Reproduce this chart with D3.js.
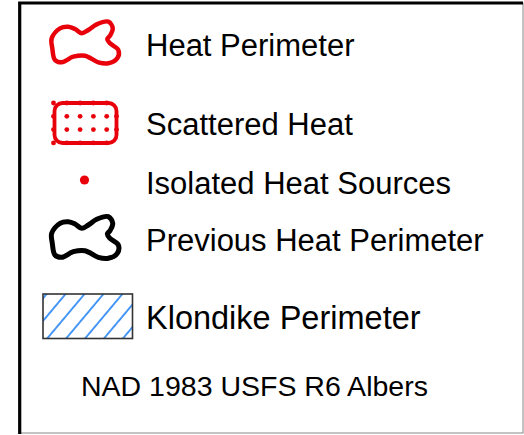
<!DOCTYPE html>
<html>
<head>
<meta charset="utf-8">
<script src="https://cdn.jsdelivr.net/npm/d3@7"></script>
<style>
  body { margin: 0; background: #fff; }
  svg { display: block; }
  text { font-family: "Liberation Sans", Arial, sans-serif; fill: #000; }
</style>
</head>
<body>
<div id="legend"></div>
<script>
// legend entries
const labels = ['Heat Perimeter', 'Scattered Heat', 'Isolated Heat Sources', 'Previous Heat Perimeter', 'Klondike Perimeter']
const symbols = ['blob', 'scatter', 'dot', 'blob', 'hatch']
const colors = ['#e8000b', '#e8000b', '#e8000b', '#000000', '#2a86f5']
const labelSizes = [31, 31, 31, 31, 32.5]
const footnote = 'NAD 1983 USFS R6 Albers'

// outline of the perimeter glyph, unit box
const blobShape = [
  [0.024, 0.376], [0.143, 0.159], [0.261, 0.124], [0.357, 0.174], [0.453, 0.267],
  [0.547, 0.196], [0.667, 0.072], [0.833, 0.015], [0.896, 0.159], [0.857, 0.320],
  [0.819, 0.391], [0.857, 0.485], [0.976, 0.630], [0.961, 0.811], [0.833, 0.920],
  [0.690, 0.898], [0.500, 0.754], [0.333, 0.776], [0.167, 0.898], [0.071, 0.848],
  [0.033, 0.593]
]

const svgWidth = 524, svgHeight = 435
const rowY = [45, 124, 183, 240, 317]   // row centres
const glyphX = 85, textX = 146

const svg = d3.select('#legend').append('svg')
    .attr('width', svgWidth)
    .attr('height', svgHeight)

// frame: heavy top/left, thin grey right/bottom
svg.append('rect')
    .attr('x', 19.5).attr('y', 3)
    .attr('width', 503.5).attr('height', 430)
    .attr('fill', '#fff')
    .attr('stroke', '#888').attr('stroke-width', 1)
svg.append('path')
    .attr('d', 'M19.7,434 V3 H523')
    .attr('fill', 'none')
    .attr('stroke', '#000').attr('stroke-width', 3.2)

const defs = svg.append('defs')
const hatch = defs.append('pattern')
    .attr('id', 'hatch')
    .attr('patternUnits', 'userSpaceOnUse')
    .attr('width', 14.5).attr('height', 14.5)
    .attr('patternTransform', 'translate(46,0) rotate(40)')
hatch.append('line')
    .attr('x1', 1).attr('y1', 0).attr('x2', 1).attr('y2', 14.5)
    .attr('stroke', colors[4]).attr('stroke-width', 1.7)

const items = svg.selectAll('g.item')
    .data(labels.map((l, i) => ({ label: l, sym: symbols[i], color: colors[i], size: labelSizes[i], y: rowY[i] })))
    .enter().append('g')
    .attr('class', 'item')

items.append('text')
    .attr('x', textX)
    .attr('y', d => d.y)
    .attr('dy', '0.36em')
    .attr('font-size', d => d.size)
    .text(d => d.label)

items.each(function(d) {
    const g = d3.select(this)
    if (d.sym === 'blob') {
        const sx = d3.scaleLinear().domain([0, 1]).range([glyphX - 35, glyphX + 35])
        const sy = d3.scaleLinear().domain([0, 1]).range([d.y - 24, d.y + 22])
        const line = d3.line().x(p => sx(p[0])).y(p => sy(p[1])).curve(d3.curveCatmullRomClosed.alpha(0.5))
        g.append('path')
            .attr('d', line(blobShape))
            .attr('fill', 'none')
            .attr('stroke', d.color)
            .attr('stroke-width', d.color === '#000000' ? 5 : 4.5)
            .attr('stroke-linejoin', 'round')
    } else if (d.sym === 'scatter') {
        const x0 = 54.5, y0 = d.y - 21, w = 62, h = 40
        g.append('rect')
            .attr('x', x0).attr('y', y0)
            .attr('width', w).attr('height', h)
            .attr('rx', 8).attr('ry', 8)
            .attr('fill', 'none')
            .attr('stroke', d.color).attr('stroke-width', 3.8)
        const cols = d3.range(5).map(i => 53.5 + i * 13.3)
        const rows = d3.range(4).map(i => y0 + i * 13.3)
        const pts = d3.cross(cols, rows).filter(p => p[0] < x0 + w + 2 && p[1] < y0 + h + 2)
        g.selectAll('circle')
            .data(pts).enter().append('circle')
            .attr('cx', p => p[0]).attr('cy', p => p[1])
            .attr('r', 2.4)
            .attr('fill', d.color)
        g.selectAll('circle.r')
            .data(rows.slice(1, 3)).enter().append('circle')
            .attr('cx', x0 + w).attr('cy', y => y)
            .attr('r', 2.4).attr('fill', d.color)
    } else if (d.sym === 'dot') {
        g.append('circle')
            .attr('cx', glyphX - 0.5).attr('cy', d.y - 3)
            .attr('r', 4.6)
            .attr('fill', d.color)
    } else if (d.sym === 'hatch') {
        g.append('rect')
            .attr('x', 43).attr('y', d.y - 23)
            .attr('width', 89.5).attr('height', 44.5)
            .attr('fill', 'url(#hatch)')
            .attr('stroke', '#333').attr('stroke-width', 1.6)
    }
})

svg.append('text')
    .attr('x', 81)
    .attr('y', 386)
    .attr('dy', '0.36em')
    .attr('font-size', 28.5)
    .text(footnote)
</script>
</body>
</html>
